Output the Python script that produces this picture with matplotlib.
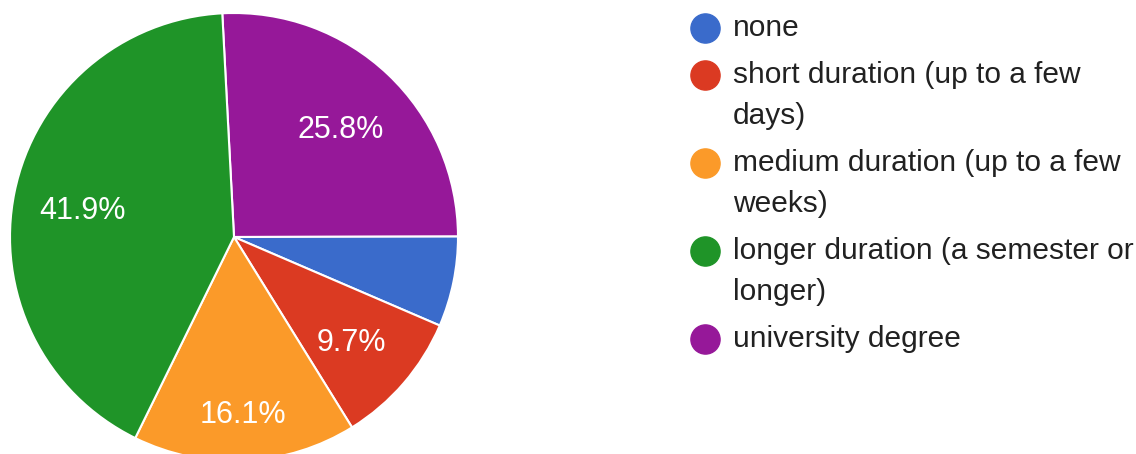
import matplotlib
matplotlib.use('Agg')
import matplotlib.pyplot as plt

# legend order
categories = [
    'none',
    'short duration (up to a few\ndays)',
    'medium duration (up to a few\nweeks)',
    'longer duration (a semester or\nlonger)',
    'university degree',
]
shares = [6.5, 9.7, 16.1, 41.9, 25.8]
colors = ['#3A6BCB', '#DB3A22', '#FB9A29', '#1F9428', '#961899']
# slices are drawn clockwise from 12 o'clock in this order
pie_order = [4, 0, 1, 2, 3]

W, H, DPI = 1136, 454, 100
plt.rcParams['font.family'] = ['Liberation Sans', 'DejaVu Sans']

fig = plt.figure(figsize=(W / DPI, H / DPI), dpi=DPI)
fig.patch.set_facecolor('white')

# pie axes: centre (234, 237) px, radius ~224 px
cx, cy, r = 234, 237, 224
ax = fig.add_axes([(cx - r) / W, (H - cy - r) / H, 2 * r / W, 2 * r / H])
vals = [shares[i] for i in pie_order]
cols = [colors[i] for i in pie_order]
wedges, _, autotexts = ax.pie(
    vals, colors=cols, startangle=93, counterclock=False, radius=1,
    autopct=lambda p: f'{p:.1f}%' if p > 7 else '', pctdistance=0.69,
    wedgeprops=dict(edgecolor='white', linewidth=1.5),
    textprops=dict(color='white', fontsize=22))
# Google charts pushes the label of a mid-size slice a bit outward
for t, v in zip(autotexts, vals):
    x, y = t.get_position()
    if 14 < v < 20:
        x, y = x * 1.12, y * 1.12
    t.set_position((x, y - 0.022))
ax.set_xlim(-1, 1)
ax.set_ylim(-1, 1)
ax.set_aspect('equal')
ax.axis('off')

# legend, drawn in pixel coordinates
lg = fig.add_axes([0, 0, 1, 1], facecolor='none')
lg.set_xlim(0, W)
lg.set_ylim(H, 0)
lg.axis('off')

y = 28
for label, col in zip(categories, colors):
    lg.plot(705, y, 'o', ms=21, color=col, mec=col)
    for k, line in enumerate(label.split('\n')):
        lg.text(733, y + k * 41 + 8, line, fontsize=21.5, color='#212121',
                ha='left', va='baseline')
    y += 47 + 41 * label.count('\n')

fig.savefig('out.png', dpi=DPI, facecolor='white')
plt.close(fig)
